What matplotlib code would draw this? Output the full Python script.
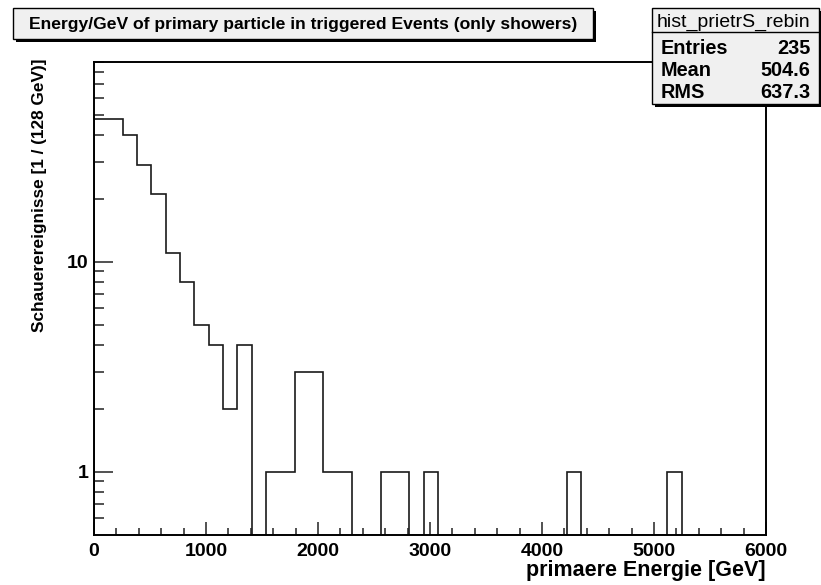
import numpy as np
import matplotlib.pyplot as plt
from matplotlib.patches import Rectangle
from matplotlib.ticker import FixedLocator, NullFormatter, FuncFormatter

# histogram content, 128 GeV bins starting at 0
bin_width = 128
counts = [48, 48, 40, 29, 21, 11, 8, 5, 4, 2, 4, 0, 1, 1, 3, 3, 1, 1, 0, 0,
          1, 1, 0, 1, 0, 0, 0, 0, 0, 0, 0, 0, 0, 1, 0, 0, 0, 0, 0, 0, 1]

title = "Energy/GeV of primary particle in triggered Events (only showers)"
hist_name = "hist_prietrS_rebin"
stats_labels = ["Entries", "Mean", "RMS"]
stats_values = ["235", "504.6", "637.3"]

plt.rcParams['font.family'] = ['Liberation Sans', 'DejaVu Sans']

W, H = 821, 585
fig = plt.figure(figsize=(W / 100, H / 100), dpi=100)
ax = fig.add_axes([94 / W, (H - 535) / H, (766 - 94) / W, (535 - 61.5) / H])

ymin, ymax = 0.5, 90
counts = np.array(counts, dtype=float)
edges = np.arange(len(counts) + 1) * bin_width
# empty bins sit on the bottom of the frame, like ROOT does on log scale
shown = np.where(counts > 0, counts, ymin)
ax.stairs(shown, edges, color='#1a1a1a', linewidth=1.2)

ax.set_yscale('log')
ax.set_xlim(0, 6000)
ax.set_ylim(ymin, ymax)

ax.xaxis.set_major_locator(FixedLocator(np.arange(0, 6001, 1000)))
ax.xaxis.set_minor_locator(FixedLocator(np.arange(0, 6001, 200)))
ax.yaxis.set_major_locator(FixedLocator([1, 10]))
minor_y = [0.6, 0.7, 0.8, 0.9] + list(range(2, 10)) + list(range(20, 100, 10))
ax.yaxis.set_minor_locator(FixedLocator(minor_y))
ax.yaxis.set_major_formatter(FuncFormatter(lambda v, p: "%d" % v))
ax.yaxis.set_minor_formatter(NullFormatter())

ax.tick_params(axis='both', which='both', direction='in', top=False, right=False,
               width=1.1, color='#222222', labelsize=14)
ax.tick_params(axis='x', which='major', length=9.5, pad=6)
ax.tick_params(axis='x', which='minor', length=4.7)
ax.tick_params(axis='y', which='major', length=13.7, pad=4)
ax.tick_params(axis='y', which='minor', length=7)
for lab in ax.get_xticklabels() + ax.get_yticklabels():
    lab.set_fontweight('bold')
for sp in ax.spines.values():
    sp.set_linewidth(1.4)

fig.text(766 / W, 1 - 576 / H, "primaere Energie [GeV]", ha='right',
         va='baseline', fontsize=15.5, fontweight='bold')
fig.text(40 / W, 1 - 58 / H, "Schauerereignisse [1 / (128 GeV)]", ha='center',
         va='top', rotation=90, fontsize=12.4, fontweight='bold')


def box(x0, y0, x1, y1):
    # pixel coords from the top-left corner, with a dark shadow
    fig.add_artist(Rectangle(((x0 + 3) / W, 1 - (y1 + 3) / H), (x1 - x0) / W,
                             (y1 - y0) / H, transform=fig.transFigure,
                             facecolor='black', edgecolor='none', zorder=5))
    fig.add_artist(Rectangle((x0 / W, 1 - y1 / H), (x1 - x0) / W, (y1 - y0) / H,
                             transform=fig.transFigure, facecolor='#f0f0f0',
                             edgecolor='black', linewidth=1.0, zorder=6))


box(13, 8, 593, 39)
fig.text(303 / W, 1 - 29.5 / H, title, ha='center', va='baseline', fontsize=12.6,
         fontweight='bold', zorder=7)

box(652, 8, 819, 104)
fig.add_artist(plt.Line2D([652 / W, 819 / W], [1 - 32 / H, 1 - 32 / H],
                          transform=fig.transFigure, color='black',
                          linewidth=1.0, zorder=7))
fig.text(733 / W, 1 - 27 / H, hist_name, ha='center', va='baseline',
         fontsize=14, zorder=7)
for i, (lab, val) in enumerate(zip(stats_labels, stats_values)):
    y = 1 - (53.5 + 22 * i) / H
    fig.text(661 / W, y, lab, ha='left', va='baseline', fontsize=14.3,
             fontweight='bold', zorder=7)
    fig.text(810 / W, y, val, ha='right', va='baseline', fontsize=14.3,
             fontweight='bold', zorder=7)

fig.savefig('out.png', dpi=100)
